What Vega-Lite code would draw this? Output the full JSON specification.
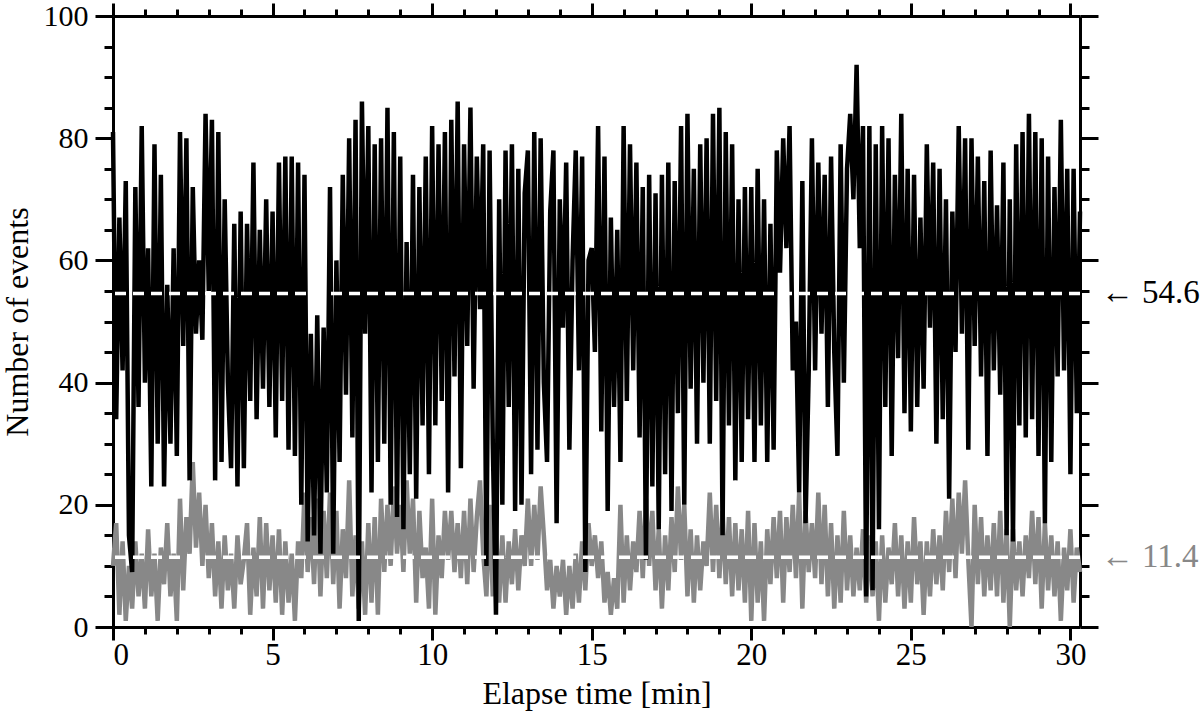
{
  "$schema": "https://vega.github.io/schema/vega-lite/v6.json",
  "width": 967,
  "height": 611,
  "autosize": "none",
  "padding": {"left": 113, "top": 16, "right": 120, "bottom": 96},
  "background": "white",
  "config": {
    "view": {"stroke": null},
    "axis": {"grid": false, "tickColor": "black", "domainColor": "black", "labelColor": "black", "titleColor": "black", "labelFont": "Liberation Serif", "titleFont": "Liberation Serif", "titleFontWeight": "normal", "tickWidth": 3, "domainWidth": 3}
  },
  "data": {"values": [
{"t":0.0,"b":81,"g":10},{"t":0.1,"b":34,"g":17},{"t":0.2,"b":67,"g":2},{"t":0.3,"b":42,"g":14},{"t":0.4,"b":73,"g":1},{"t":0.5,"b":15,"g":10},{"t":0.6,"b":9,"g":3},{"t":0.7,"b":72,"g":14},{"t":0.8,"b":36,"g":5},{"t":0.9,"b":82,"g":12},
{"t":1.0,"b":40,"g":3},{"t":1.1,"b":62,"g":16},{"t":1.2,"b":23,"g":5},{"t":1.3,"b":79,"g":12},{"t":1.4,"b":30,"g":1},{"t":1.5,"b":74,"g":13},{"t":1.6,"b":23,"g":7},{"t":1.7,"b":56,"g":17},{"t":1.8,"b":30,"g":5},{"t":1.9,"b":62,"g":12},
{"t":2.0,"b":28,"g":1},{"t":2.1,"b":81,"g":21},{"t":2.2,"b":46,"g":6},{"t":2.3,"b":80,"g":18},{"t":2.4,"b":24,"g":12},{"t":2.5,"b":72,"g":27},{"t":2.6,"b":48,"g":13},{"t":2.7,"b":60,"g":22},{"t":2.8,"b":47,"g":10},{"t":2.9,"b":84,"g":20},
{"t":3.0,"b":55,"g":8},{"t":3.1,"b":83,"g":17},{"t":3.2,"b":24,"g":5},{"t":3.3,"b":81,"g":14},{"t":3.4,"b":27,"g":3},{"t":3.5,"b":70,"g":15},{"t":3.6,"b":40,"g":6},{"t":3.7,"b":26,"g":12},{"t":3.8,"b":66,"g":3},{"t":3.9,"b":23,"g":15},
{"t":4.0,"b":68,"g":7},{"t":4.1,"b":26,"g":11},{"t":4.2,"b":66,"g":17},{"t":4.3,"b":37,"g":2},{"t":4.4,"b":76,"g":13},{"t":4.5,"b":34,"g":5},{"t":4.6,"b":65,"g":18},{"t":4.7,"b":39,"g":3},{"t":4.8,"b":70,"g":17},{"t":4.9,"b":36,"g":6},
{"t":5.0,"b":68,"g":15},{"t":5.1,"b":31,"g":4},{"t":5.2,"b":76,"g":16},{"t":5.3,"b":37,"g":2},{"t":5.4,"b":77,"g":14},{"t":5.5,"b":29,"g":4},{"t":5.6,"b":77,"g":12},{"t":5.7,"b":28,"g":1},{"t":5.8,"b":76,"g":14},{"t":5.9,"b":20,"g":8},
{"t":6.0,"b":74,"g":22},{"t":6.1,"b":14,"g":9},{"t":6.2,"b":48,"g":18},{"t":6.3,"b":15,"g":7},{"t":6.4,"b":51,"g":21},{"t":6.5,"b":12,"g":5},{"t":6.6,"b":49,"g":19},{"t":6.7,"b":22,"g":8},{"t":6.8,"b":72,"g":22},{"t":6.9,"b":12,"g":7},
{"t":7.0,"b":60,"g":19},{"t":7.1,"b":27,"g":3},{"t":7.2,"b":74,"g":16},{"t":7.3,"b":38,"g":8},{"t":7.4,"b":80,"g":24},{"t":7.5,"b":31,"g":5},{"t":7.6,"b":83,"g":15},{"t":7.7,"b":1,"g":3},{"t":7.8,"b":86,"g":14},{"t":7.9,"b":48,"g":2},
{"t":8.0,"b":82,"g":17},{"t":8.1,"b":22,"g":4},{"t":8.2,"b":79,"g":18},{"t":8.3,"b":27,"g":2},{"t":8.4,"b":80,"g":21},{"t":8.5,"b":30,"g":9},{"t":8.6,"b":85,"g":20},{"t":8.7,"b":20,"g":10},{"t":8.8,"b":81,"g":23},{"t":8.9,"b":18,"g":12},
{"t":9.0,"b":77,"g":20},{"t":9.1,"b":16,"g":9},{"t":9.2,"b":63,"g":24},{"t":9.3,"b":25,"g":12},{"t":9.4,"b":74,"g":21},{"t":9.5,"b":21,"g":4},{"t":9.6,"b":72,"g":19},{"t":9.7,"b":33,"g":8},{"t":9.8,"b":77,"g":13},{"t":9.9,"b":25,"g":3},
{"t":10.0,"b":82,"g":21},{"t":10.1,"b":33,"g":2},{"t":10.2,"b":79,"g":15},{"t":10.3,"b":37,"g":8},{"t":10.4,"b":81,"g":19},{"t":10.5,"b":22,"g":11},{"t":10.6,"b":83,"g":19},{"t":10.7,"b":41,"g":9},{"t":10.8,"b":86,"g":17},{"t":10.9,"b":26,"g":8},
{"t":11.0,"b":79,"g":19},{"t":11.1,"b":46,"g":7},{"t":11.2,"b":85,"g":21},{"t":11.3,"b":39,"g":9},{"t":11.4,"b":77,"g":18},{"t":11.5,"b":52,"g":24},{"t":11.6,"b":79,"g":12},{"t":11.7,"b":10,"g":5},{"t":11.8,"b":78,"g":20},{"t":11.9,"b":30,"g":5},
{"t":12.0,"b":2,"g":16},{"t":12.1,"b":70,"g":4},{"t":12.2,"b":20,"g":15},{"t":12.3,"b":78,"g":4},{"t":12.4,"b":36,"g":14},{"t":12.5,"b":79,"g":7},{"t":12.6,"b":19,"g":16},{"t":12.7,"b":75,"g":6},{"t":12.8,"b":20,"g":15},{"t":12.9,"b":71,"g":10},
{"t":13.0,"b":78,"g":21},{"t":13.1,"b":25,"g":10},{"t":13.2,"b":81,"g":20},{"t":13.3,"b":29,"g":11},{"t":13.4,"b":80,"g":23},{"t":13.5,"b":40,"g":15},{"t":13.6,"b":27,"g":6},{"t":13.7,"b":68,"g":11},{"t":13.8,"b":78,"g":3},{"t":13.9,"b":17,"g":10},
{"t":14.0,"b":70,"g":5},{"t":14.1,"b":49,"g":11},{"t":14.2,"b":76,"g":2},{"t":14.3,"b":29,"g":10},{"t":14.4,"b":60,"g":3},{"t":14.5,"b":78,"g":12},{"t":14.6,"b":42,"g":4},{"t":14.7,"b":77,"g":14},{"t":14.8,"b":9,"g":6},{"t":14.9,"b":60,"g":17},
{"t":15.0,"b":62,"g":10},{"t":15.1,"b":45,"g":15},{"t":15.2,"b":82,"g":8},{"t":15.3,"b":32,"g":14},{"t":15.4,"b":77,"g":4},{"t":15.5,"b":19,"g":9},{"t":15.6,"b":67,"g":2},{"t":15.7,"b":36,"g":8},{"t":15.8,"b":65,"g":3},{"t":15.9,"b":27,"g":20},
{"t":16.0,"b":82,"g":4},{"t":16.1,"b":37,"g":15},{"t":16.2,"b":79,"g":6},{"t":16.3,"b":42,"g":14},{"t":16.4,"b":76,"g":9},{"t":16.5,"b":31,"g":19},{"t":16.6,"b":72,"g":8},{"t":16.7,"b":11,"g":21},{"t":16.8,"b":74,"g":10},{"t":16.9,"b":23,"g":19},
{"t":17.0,"b":71,"g":6},{"t":17.1,"b":16,"g":16},{"t":17.2,"b":74,"g":3},{"t":17.3,"b":25,"g":15},{"t":17.4,"b":76,"g":6},{"t":17.5,"b":19,"g":18},{"t":17.6,"b":73,"g":9},{"t":17.7,"b":35,"g":23},{"t":17.8,"b":82,"g":11},{"t":17.9,"b":20,"g":20},
{"t":18.0,"b":84,"g":5},{"t":18.1,"b":39,"g":16},{"t":18.2,"b":75,"g":4},{"t":18.3,"b":30,"g":15},{"t":18.4,"b":79,"g":6},{"t":18.5,"b":40,"g":14},{"t":18.6,"b":80,"g":10},{"t":18.7,"b":30,"g":22},{"t":18.8,"b":84,"g":9},{"t":18.9,"b":37,"g":20},
{"t":19.0,"b":85,"g":8},{"t":19.1,"b":15,"g":19},{"t":19.2,"b":81,"g":7},{"t":19.3,"b":33,"g":18},{"t":19.4,"b":79,"g":5},{"t":19.5,"b":24,"g":17},{"t":19.6,"b":70,"g":6},{"t":19.7,"b":27,"g":16},{"t":19.8,"b":72,"g":4},{"t":19.9,"b":34,"g":19},
{"t":20.0,"b":72,"g":1},{"t":20.1,"b":27,"g":17},{"t":20.2,"b":75,"g":4},{"t":20.3,"b":33,"g":14},{"t":20.4,"b":70,"g":1},{"t":20.5,"b":27,"g":16},{"t":20.6,"b":66,"g":7},{"t":20.7,"b":29,"g":18},{"t":20.8,"b":78,"g":8},{"t":20.9,"b":58,"g":19},
{"t":21.0,"b":80,"g":4},{"t":21.1,"b":62,"g":18},{"t":21.2,"b":82,"g":9},{"t":21.3,"b":42,"g":20},{"t":21.4,"b":50,"g":8},{"t":21.5,"b":22,"g":22},{"t":21.6,"b":73,"g":3},{"t":21.7,"b":17,"g":19},{"t":21.8,"b":42,"g":9},{"t":21.9,"b":80,"g":17},
{"t":22.0,"b":42,"g":8},{"t":22.1,"b":76,"g":22},{"t":22.2,"b":48,"g":7},{"t":22.3,"b":74,"g":20},{"t":22.4,"b":36,"g":5},{"t":22.5,"b":77,"g":17},{"t":22.6,"b":45,"g":3},{"t":22.7,"b":28,"g":15},{"t":22.8,"b":79,"g":4},{"t":22.9,"b":40,"g":19},
{"t":23.0,"b":75,"g":6},{"t":23.1,"b":84,"g":15},{"t":23.2,"b":70,"g":5},{"t":23.3,"b":92,"g":13},{"t":23.4,"b":62,"g":6},{"t":23.5,"b":82,"g":16},{"t":23.6,"b":5,"g":4},{"t":23.7,"b":82,"g":15},{"t":23.8,"b":6,"g":5},{"t":23.9,"b":79,"g":14},
{"t":24.0,"b":16,"g":1},{"t":24.1,"b":82,"g":15},{"t":24.2,"b":36,"g":4},{"t":24.3,"b":80,"g":13},{"t":24.4,"b":28,"g":7},{"t":24.5,"b":74,"g":17},{"t":24.6,"b":44,"g":5},{"t":24.7,"b":84,"g":15},{"t":24.8,"b":35,"g":3},{"t":24.9,"b":75,"g":14},
{"t":25.0,"b":32,"g":4},{"t":25.1,"b":74,"g":18},{"t":25.2,"b":36,"g":7},{"t":25.3,"b":67,"g":14},{"t":25.4,"b":39,"g":2},{"t":25.5,"b":79,"g":14},{"t":25.6,"b":49,"g":5},{"t":25.7,"b":76,"g":16},{"t":25.8,"b":30,"g":7},{"t":25.9,"b":75,"g":15},
{"t":26.0,"b":34,"g":6},{"t":26.1,"b":70,"g":19},{"t":26.2,"b":21,"g":9},{"t":26.3,"b":68,"g":21},{"t":26.4,"b":45,"g":8},{"t":26.5,"b":82,"g":22},{"t":26.6,"b":48,"g":12},{"t":26.7,"b":80,"g":24},{"t":26.8,"b":29,"g":11},{"t":26.9,"b":80,"g":0},
{"t":27.0,"b":46,"g":20},{"t":27.1,"b":77,"g":7},{"t":27.2,"b":41,"g":18},{"t":27.3,"b":73,"g":5},{"t":27.4,"b":28,"g":15},{"t":27.5,"b":78,"g":6},{"t":27.6,"b":42,"g":17},{"t":27.7,"b":69,"g":5},{"t":27.8,"b":38,"g":19},{"t":27.9,"b":76,"g":4},
{"t":28.0,"b":15,"g":16},{"t":28.1,"b":70,"g":0},{"t":28.2,"b":14,"g":16},{"t":28.3,"b":79,"g":6},{"t":28.4,"b":33,"g":14},{"t":28.5,"b":81,"g":5},{"t":28.6,"b":31,"g":15},{"t":28.7,"b":84,"g":8},{"t":28.8,"b":34,"g":19},{"t":28.9,"b":81,"g":7},
{"t":29.0,"b":28,"g":18},{"t":29.1,"b":80,"g":3},{"t":29.2,"b":17,"g":17},{"t":29.3,"b":77,"g":6},{"t":29.4,"b":27,"g":15},{"t":29.5,"b":72,"g":5},{"t":29.6,"b":41,"g":14},{"t":29.7,"b":83,"g":1},{"t":29.8,"b":42,"g":13},{"t":29.9,"b":75,"g":6},
{"t":30.0,"b":25,"g":16},{"t":30.1,"b":75,"g":4},{"t":30.2,"b":35,"g":13},{"t":30.3,"b":68,"g":9}
  ]},
  "resolve": {"axis": {"x": "independent", "y": "independent"}},
  "layer": [
    {
      "mark": {"type": "line", "color": "#888888", "strokeWidth": 4.5, "strokeJoin": "miter", "strokeMiterLimit": 2},
      "encoding": {
        "x": {"field": "t", "type": "quantitative", "scale": {"domain": [0, 30.3], "nice": false, "zero": false},
              "axis": {"orient": "bottom", "values": [1,2,3,4,6,7,8,9,11,12,13,14,16,17,18,19,21,22,23,24,26,27,28,29], "tickSize": 7, "labels": false, "domain": false, "title": null}},
        "y": {"field": "g", "type": "quantitative", "scale": {"domain": [0, 100], "nice": false},
              "axis": {"orient": "left", "values": [5,10,15,25,30,35,45,50,55,65,70,75,85,90,95], "tickSize": 9, "labels": false, "domain": false, "title": null}}
      }
    },
    {
      "mark": {"type": "line", "color": "black", "strokeWidth": 4.5, "strokeJoin": "miter", "strokeMiterLimit": 2},
      "encoding": {
        "x": {"field": "t", "type": "quantitative",
              "axis": {"orient": "bottom", "values": [0,5,10,15,20,25,30], "tickSize": 13, "labelFontSize": 31, "labelPadding": 0, "format": "d", "title": "Elapse time [min]", "titleFontSize": 32, "titlePadding": 8}},
        "y": {"field": "b", "type": "quantitative",
              "axis": {"orient": "left", "values": [0,20,40,60,80,100], "tickSize": 18, "labelFontSize": 30, "labelPadding": 7, "format": "d", "title": "Number of events", "titleFontSize": 32, "titlePadding": 9}}
      }
    },
    {
      "data": {"values": [{"m": "mean"}]},
      "mark": {"type": "rule", "color": "white", "strokeWidth": 3.5, "strokeDash": [11, 7]},
      "encoding": {"y": {"datum": 54.6, "type": "quantitative", "axis": null}}
    },
    {
      "data": {"values": [{"m": "mean"}]},
      "mark": {"type": "rule", "color": "white", "strokeWidth": 3.5, "strokeDash": [11, 7]},
      "encoding": {"y": {"datum": 11.4, "type": "quantitative", "axis": null}}
    },
    {
      "data": {"values": [{"label": "← 54.6"}]},
      "mark": {"type": "text", "align": "left", "baseline": "middle", "font": "Liberation Serif", "fontSize": 33, "color": "black"},
      "encoding": {
        "text": {"field": "label"},
        "x": {"datum": 30.95, "type": "quantitative",
              "axis": {"orient": "top", "values": [0,5,10,15,20,25,30], "tickSize": 13, "labels": false, "title": null}},
        "y": {"datum": 54.6, "type": "quantitative",
              "axis": {"orient": "right", "values": [0,20,40,60,80,100], "tickSize": 18, "labels": false, "title": null}}
      }
    },
    {
      "data": {"values": [{"label": "← 11.4"}]},
      "mark": {"type": "text", "align": "left", "baseline": "middle", "font": "Liberation Serif", "fontSize": 33, "color": "#888888"},
      "encoding": {
        "text": {"field": "label"},
        "x": {"datum": 30.95, "type": "quantitative",
              "axis": {"orient": "top", "values": [1,2,3,4,6,7,8,9,11,12,13,14,16,17,18,19,21,22,23,24,26,27,28,29], "tickSize": 7, "labels": false, "domain": false, "title": null}},
        "y": {"datum": 11.4, "type": "quantitative",
              "axis": {"orient": "right", "values": [5,10,15,25,30,35,45,50,55,65,70,75,85,90,95], "tickSize": 9, "labels": false, "domain": false, "title": null}}
      }
    }
  ]
}
